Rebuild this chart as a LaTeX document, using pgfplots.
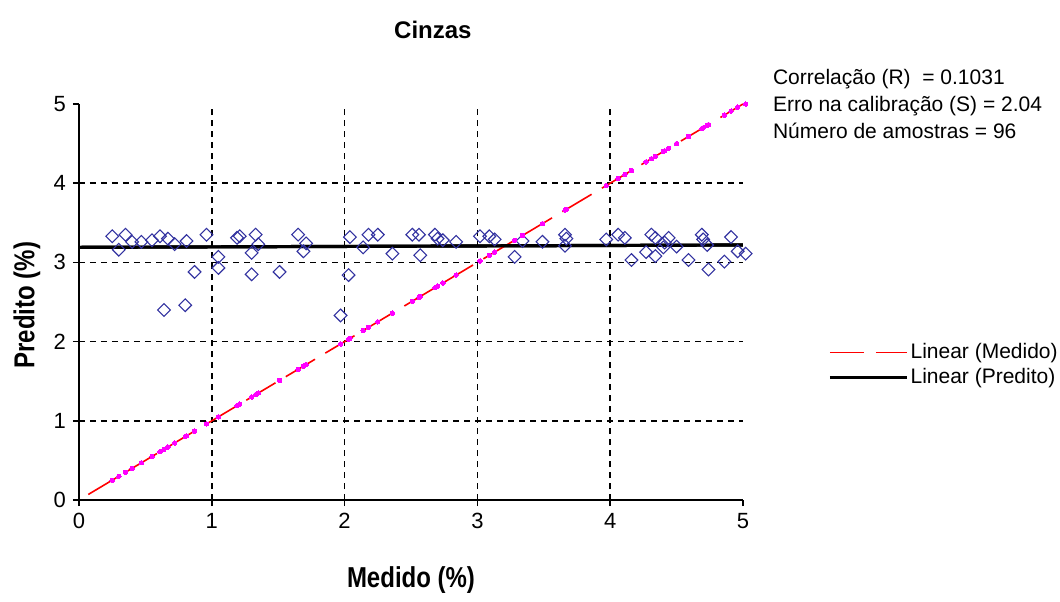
\documentclass[border=0pt]{standalone}
\usepackage{fontspec}
\setmainfont{Liberation Sans}
\usepackage{pgfplots}
\usepackage{pgfplotstable}
\pgfplotsset{compat=1.18}
\definecolor{navyd}{RGB}{50,50,160}
\definecolor{mag}{RGB}{255,0,255}

\pgfplotstableread{
x y m
0.25 3.33 0.25
0.30 3.16 0.30
0.35 3.35 0.35
0.40 3.26 0.40
0.47 3.26 0.47
0.55 3.28 0.55
0.61 3.33 0.61
0.67 3.30 0.67
0.72 3.23 0.72
0.81 3.27 0.81
0.87 2.88 0.87
0.64 2.40 0.64
0.80 2.46 0.80
0.96 3.35 0.96
1.05 3.07 1.05
1.05 2.93 1.05
1.19 3.31 1.19
1.21 3.33 1.21
1.30 3.12 1.30
1.30 2.85 1.30
1.33 3.35 1.33
1.35 3.23 1.35
1.51 2.88 1.51
1.65 3.35 1.65
1.71 3.24 1.71
1.69 3.14 1.69
1.97 2.33 1.97
2.03 2.84 2.03
2.04 3.32 2.04
2.14 3.19 2.14
2.18 3.35 2.18
2.25 3.35 2.25
2.36 3.11 2.36
2.51 3.35 2.51
2.56 3.35 2.56
2.57 3.09 2.57
2.68 3.35 2.68
2.70 3.30 2.70
2.74 3.28 2.74
2.84 3.26 2.84
3.02 3.33 3.02
3.09 3.33 3.09
3.13 3.29 3.13
3.28 3.07 3.28
3.34 3.27 3.34
3.49 3.26 3.49
3.66 3.35 3.66
3.67 3.30 3.67
3.66 3.21 3.66
3.97 3.29 3.97
4.06 3.35 4.06
4.11 3.31 4.11
4.16 3.03 4.16
4.27 3.13 4.27
4.31 3.35 4.31
4.34 3.08 4.34
4.34 3.31 4.34
4.40 3.19 4.40
4.41 3.25 4.41
4.44 3.31 4.44
4.50 3.20 4.50
4.59 3.03 4.59
4.69 3.35 4.69
4.70 3.29 4.70
4.73 3.22 4.73
4.74 2.91 4.74
4.86 3.01 4.86
4.91 3.32 4.91
4.96 3.14 4.96
5.02 3.11 5.00
}\pred

\begin{document}
\begin{tikzpicture}
\begin{axis}[
  at={(0pt,0pt)}, anchor=south west,
  scale only axis, width=332pt, height=198pt,
  xmin=0, xmax=5, ymin=0, ymax=5,
  clip=false,
  axis x line*=bottom, axis y line*=left,
  axis line style={line width=0.9pt, black, -},
  xtick={0,1,2,3,4,5}, ytick={0,1,2,3,4,5},
  tick align=outside, major tick length=3pt,
  tick style={line width=0.8pt, black},
  extra x ticks={1,2,3,4}, extra x tick labels={},
  extra x tick style={grid=major, major tick length=0pt},
  extra y ticks={1,2,3,4}, extra y tick labels={},
  extra y tick style={grid=major, major tick length=0pt},
  grid style={black, line width=0.85pt, dash pattern=on 3pt off 2.5pt},
  ticklabel style={font=\fontsize{11}{13}\selectfont},
  /pgf/number format/assume math mode=true,
  xlabel={\scalebox{1}[1.2]{\fontsize{12}{14}\selectfont\bfseries Medido (\%)}},
  ylabel={\scalebox{1}[1.2]{\fontsize{12}{14}\selectfont\bfseries Predito (\%)}},
  every axis x label/.style={at={(axis description cs:0.5,-0.202)}, anchor=center},
  every axis y label/.style={at={(axis description cs:-0.0783,0.492)}, rotate=90, anchor=center},
  legend style={at={(rel axis cs:1.128,0.341)}, anchor=west, draw=none, fill=none,
    font=\fontsize{10.5}{12}\selectfont, inner sep=0pt, row sep=1.5pt, nodes={inner sep=1pt}},
  legend cell align=left,
  legend image code/.code={\draw[#1] (0pt,0pt) -- (38.5pt,0pt);},
]
\addplot[only marks, mark=square, mark size=2.25pt,
  mark options={rotate=45, draw=navyd, line width=0.55pt}, forget plot]
  table[x=x, y=y]{\pred};
\addplot[black, line width=1.6pt, forget plot] coordinates {(0,3.19) (5,3.22)};
\addplot[red, line width=0.8pt, dash pattern=on 17pt off 6pt] coordinates {(0.07,0.07) (5,5)};
\addlegendentry{Linear (Medido)}
\addplot[black, line width=1.6pt] coordinates {(0,3.19) (5,3.22)};
\addlegendentry{Linear (Predito)}
\addplot[only marks, mark=*, mark size=1.1pt, mark options={fill=mag, draw=mag, line width=0pt}, forget plot]
  table[x=x, y=m]{\pred};
\node[anchor=center, font=\fontsize{12}{14}\selectfont\bfseries] at (rel axis cs:0.533,1.187) {Cinzas};
\node[anchor=base west, font=\fontsize{10.5}{12}\selectfont] at (rel axis cs:1.0346,1.049) {Correlação (R)\ \ = 0.1031};
\node[anchor=base west, font=\fontsize{10.5}{12}\selectfont] at (rel axis cs:1.0346,0.981) {Erro na calibração (S) = 2.04};
\node[anchor=base west, font=\fontsize{10.5}{12}\selectfont] at (rel axis cs:1.0346,0.913) {Número de amostras = 96};
\end{axis}
\pgfresetboundingbox
\path[use as bounding box] (-39.5pt,-50.5pt) rectangle (490.5pt,250pt);
\end{tikzpicture}
\end{document}
